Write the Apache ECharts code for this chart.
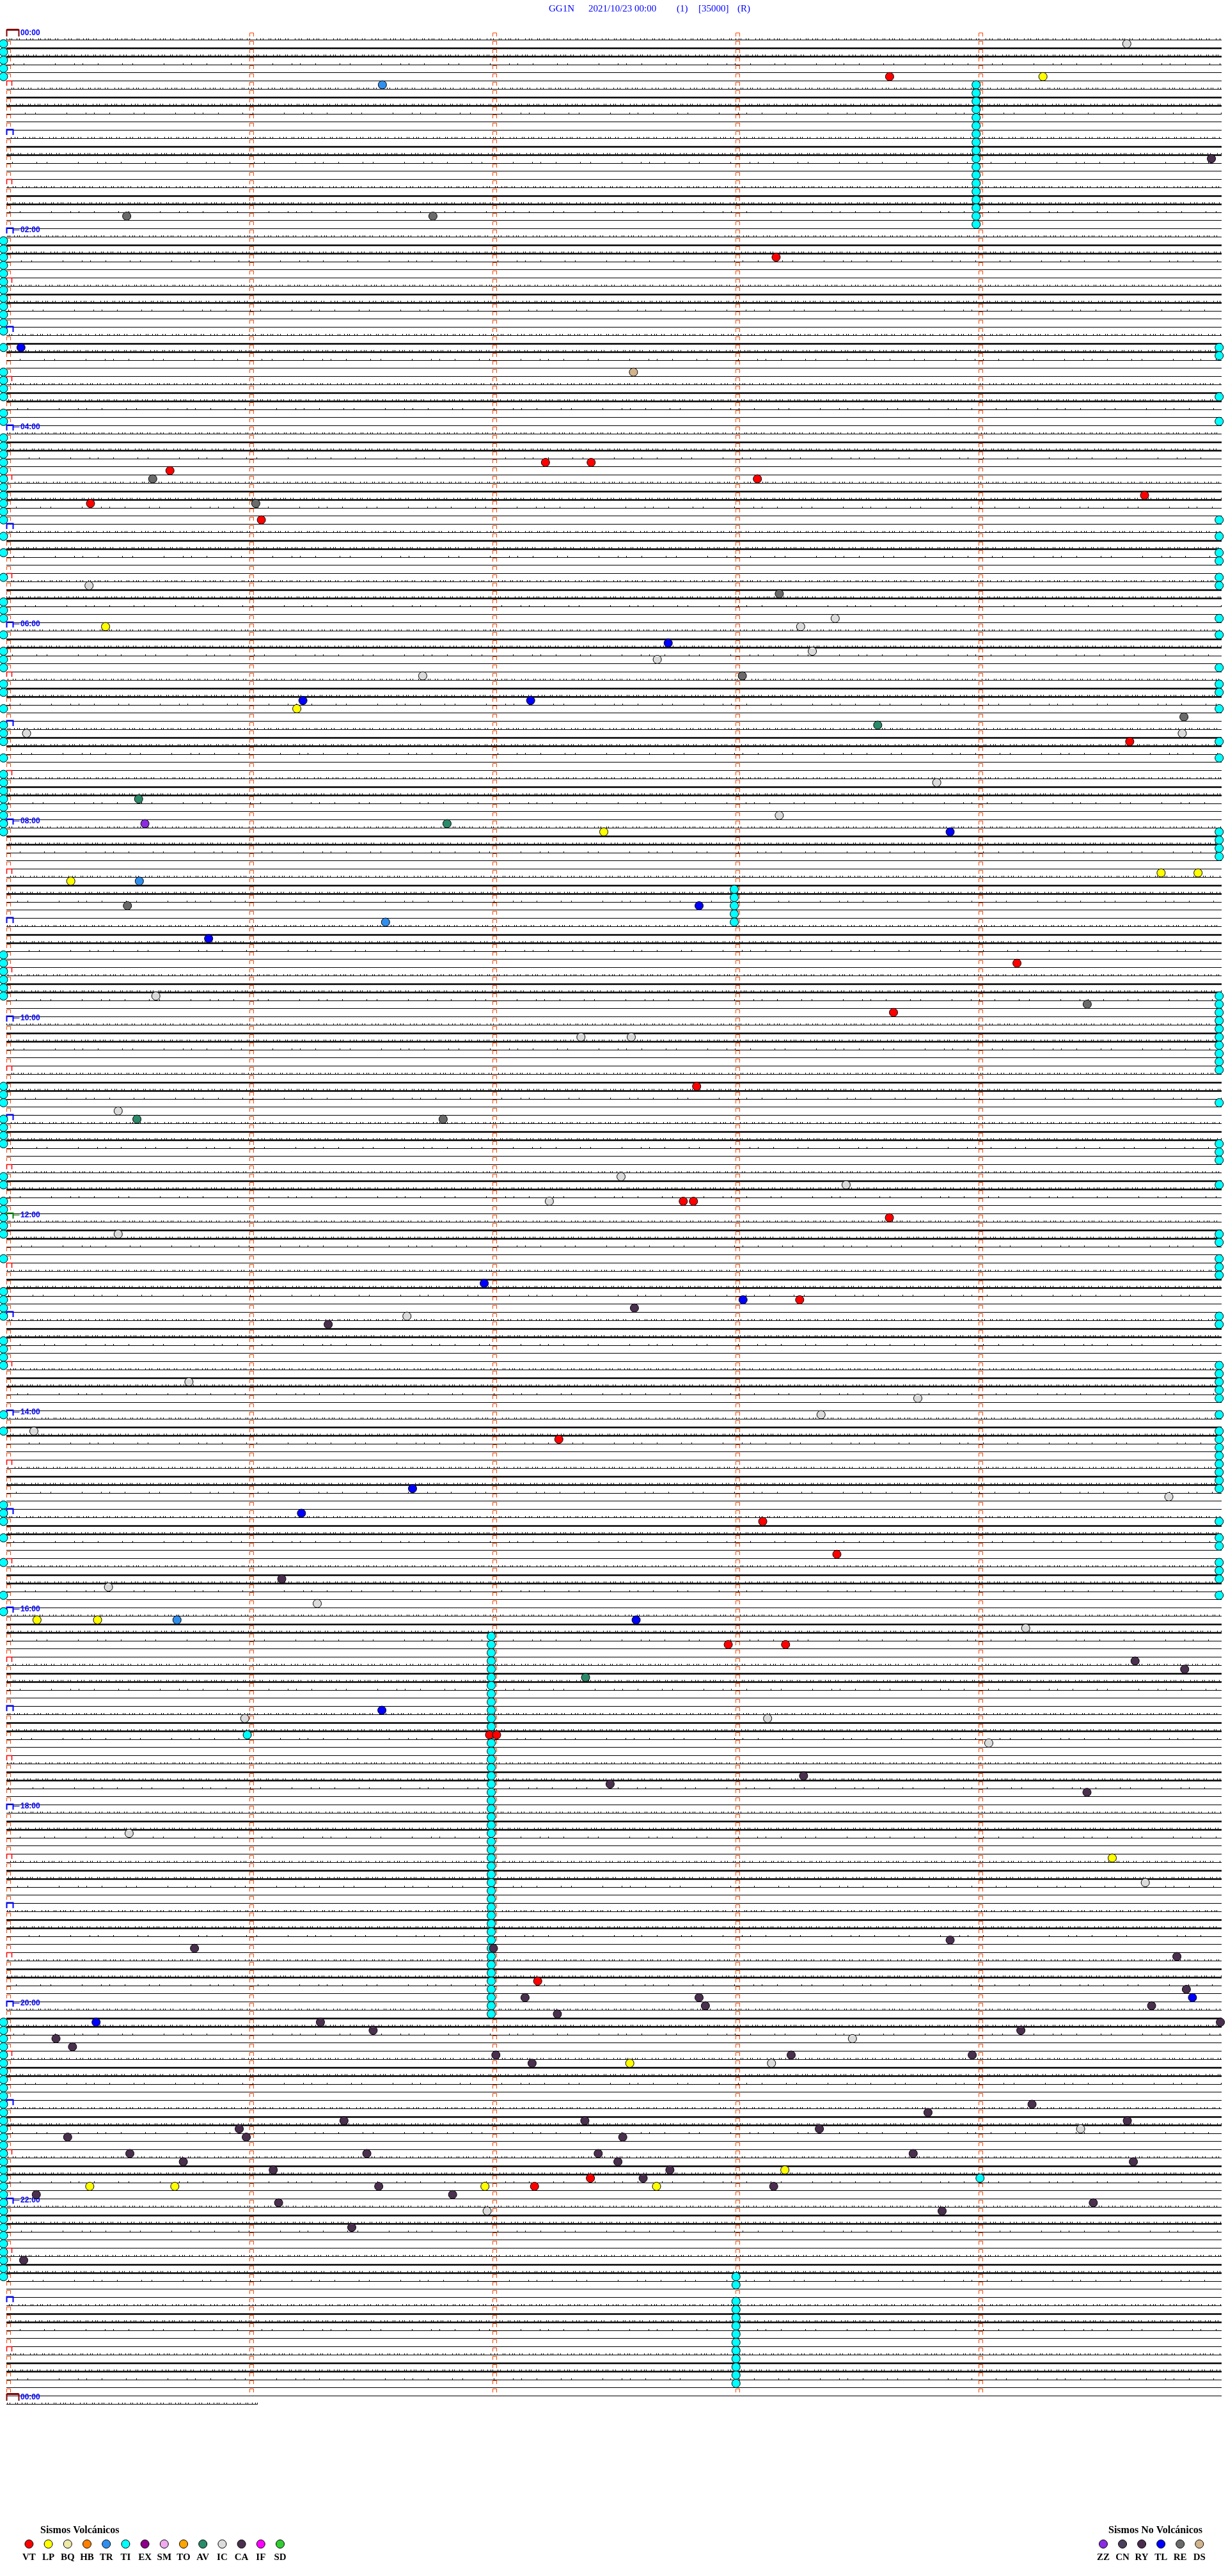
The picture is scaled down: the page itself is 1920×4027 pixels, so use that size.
<!DOCTYPE html>
<html><head><meta charset="utf-8">
<script src="https://cdn.jsdelivr.net/npm/echarts@6/dist/echarts.min.js"></script>
<style>html,body{margin:0;padding:0;background:#fff}#c{width:1920px;height:4027px}</style>
</head><body><div id="c"></div><script>
// ---------------- DATA ----------------
const titleParts = ['GG1N', '2021/10/23 00:00', '(1)', '[35000]', '(R)'];
const hourLabelRows = [0, 24, 48, 72, 96, 120, 144, 168, 192, 216, 240, 264, 288];
const hourLabelTexts = ['00:00','02:00','04:00','06:00','08:00','10:00','12:00','14:00','16:00','18:00','20:00','22:00','00:00'];
// trace noise level per 5-minute line (0 thin, 1 sparse ticks, 2 dense ticks, 3 thick, 4 thick+ticks), one string per hour
const traceLevels = [
 '234100234100','234100234100','234100234100','234100234100','234100234100','234100234100',
 '234100234100','234100234100','234100234100','234100234100','234100234100','234100234100',
 '234100234100','234100234100','234100234100','234100234100','234100234100','234100234100',
 '234100234100','234100234100','234100234100','234100234100','234100234100','234100234100'
];
const lastLine = [288, 2, 1.034]; // row, level, end minute
const bracketMinutes = [0, 1, 2, 3, 4];

const volcTypes = ['VT','LP','BQ','HB','TR','TI','EX','SM','TO','AV','IC','CA','IF','SD'];
const volcColors = ['#ff0000','#ffff00','#eee8aa','#ff8000','#2f8fef','#00ffff','#8b008b','#eeaaee','#ffa500','#2a8a6a','#dcdcdc','#4a2f4f','#ff00ff','#32cd32'];
const noVolcTypes = ['ZZ','CN','RY','TL','RE','DS'];
const noVolcColors = ['#8a2be2','#4a3f5c','#4b2c4e','#0000ff','#6a6a6a','#d2b48c'];

// events: [row, minute]
const evVT = [[4,3.634],[26,3.167],[51,2.218],[51,2.406],[52,0.673],[53,3.09],[55,4.683],[56,0.346],[58,1.049],[85,4.622],[112,4.158],[118,3.65],[127,2.84],[141,2.785],[141,2.827],[143,3.633],[153,3.264],[170,2.273],[180,3.112],[184,3.417],[195,2.97],[195,3.206],[206,1.988],[206,2.017],[236,2.186],[260,2.403],[261,2.173]];
const evLP = [[4,4.265],[71,0.408],[81,1.195],[96,2.458],[101,4.751],[101,4.903],[102,0.265],[192,0.126],[192,0.375],[221,4.55],[246,2.565],[259,3.203],[261,0.343],[261,0.693],[261,1.969],[261,2.675]];
const evTR = [[5,1.547],[102,0.547],[107,1.56],[192,0.702]];
const evAV = [[83,3.585],[92,0.544],[95,1.813],[131,0.537],[199,2.383]];
const evIC = [[0,4.61],[66,0.34],[70,3.41],[71,3.268],[74,3.316],[75,2.678],[77,1.713],[84,0.083],[84,4.838],[90,3.828],[94,3.18],[116,0.615],[121,2.364],[121,2.571],[130,0.46],[138,2.529],[139,3.455],[141,2.234],[145,0.46],[155,1.648],[163,0.751],[165,3.75],[167,3.352],[169,0.113],[177,4.783],[188,0.42],[190,1.279],[193,4.194],[204,0.981],[204,3.132],[207,4.042],[218,0.505],[224,4.686],[243,3.481],[246,3.148],[254,4.42],[264,1.978]];
const evCA = [[14,4.958],[154,2.584],[156,1.324],[187,1.133],[197,4.644],[198,4.848],[211,3.28],[212,2.484],[213,4.446],[231,3.883],[232,0.774],[232,2.004],[233,4.816],[237,4.855],[238,2.134],[238,2.85],[239,2.876],[239,4.712],[240,2.267],[241,1.292],[241,4.995],[242,1.509],[242,4.174],[243,0.204],[244,0.272],[245,2.014],[245,3.229],[245,3.974],[246,2.163],[251,4.22],[252,3.792],[253,1.389],[253,2.38],[253,4.612],[254,0.958],[254,3.345],[255,0.252],[255,0.987],[255,2.536],[257,0.508],[257,1.483],[257,2.435],[257,3.731],[258,0.728],[258,2.516],[258,4.637],[259,1.098],[259,2.73],[260,2.62],[261,1.532],[261,3.157],[262,0.123],[262,1.836],[263,1.12],[263,4.472],[264,3.85],[266,1.421],[270,0.071]];
const evZZ = [[95,0.57]];
const evTL = [[37,0.06],[73,2.723],[80,1.22],[80,2.157],[96,3.883],[105,2.85],[109,0.832],[151,1.966],[153,3.031],[176,1.671],[179,1.214],[192,2.591],[203,1.545],[238,4.88],[241,0.369]];
const evRE = [[21,0.495],[21,1.755],[53,0.602],[56,1.026],[67,3.18],[77,3.028],[82,4.845],[105,0.498],[117,4.447],[131,1.797]];
const evDS = [[40,2.58]];
const evTIsingle = [[206,0.991],[260,4.006]];
const tiLeftMinute = -0.012;
const tiRightMinute = 4.99;
const tiLeftRows = [0,1,2,3,4,24,25,26,27,28,29,30,31,32,33,34,35,37,40,41,42,43,45,46,48,49,50,51,52,53,54,55,56,57,58,60,62,65,68,69,70,72,74,75,76,78,79,81,83,84,85,87,89,90,91,92,93,94,95,96,111,112,113,114,115,116,127,128,129,131,132,133,134,138,139,141,142,143,144,145,148,152,153,154,155,158,159,160,161,167,169,178,179,180,182,185,189,191,241,242,243,244,245,246,247,248,249,250,251,252,253,254,255,256,257,258,259,260,261,262,263,264,265,266,267,268,269,270,271,272];
const tiRightRows = [37,38,43,46,58,60,62,63,65,66,70,72,76,78,79,81,85,87,96,97,98,99,116,117,118,119,120,121,122,123,124,125,129,134,135,136,139,145,146,148,149,150,155,156,161,162,163,164,165,167,169,170,171,172,173,174,175,176,180,182,183,185,186,187,189];
const tiColumn1 = {minute: 3.99, rows: [5,6,7,8,9,10,11,12,13,14,15,16,17,18,19,20,21,22]};
const tiColumn2 = {minute: 2.995, rows: [103,104,105,106,107]};
const tiColumn3 = {minute: 1.995, rows: [194,195,196,197,198,199,200,201,202,203,204,205,206,207,208,209,210,211,212,213,214,215,216,217,218,219,220,221,222,223,224,225,226,227,228,229,230,231,232,233,234,235,236,237,238,239,240]};
const tiColumn4 = {minute: 3.002, rows: [272,273,275,276,277,278,279,280,281,282,283,284,285]};

// ---------------- BUILD ----------------
const traceData = [];
traceLevels.join('').split('').forEach((c, k) => traceData.push([k, +c, 5]));
traceData.push(lastLine);

const bracketData = [];
for (let k = 0; k < 288; k++) bracketMinutes.forEach(m => bracketData.push([k, m]));
bracketData.push([288, 0]);

const labelData = hourLabelRows.map((r, i) => [r, i]);

function toPts(list) { return list.map(e => [e[1], e[0] + 0.5]); }
const tiData = [].concat(
  tiLeftRows.map(r => [tiLeftMinute, r + 0.5]),
  tiRightRows.map(r => [tiRightMinute, r + 0.5]),
  [tiColumn1, tiColumn2, tiColumn3, tiColumn4].reduce((a, c) => a.concat(c.rows.map(r => [c.minute, r + 0.5])), []),
  toPts(evTIsingle)
);
const colorOf = {};
volcTypes.forEach((t, i) => colorOf[t] = volcColors[i]);
noVolcTypes.forEach((t, i) => colorOf[t] = noVolcColors[i]);

const eventSets = [['TI', tiData], ['IC', toPts(evIC)], ['RE', toPts(evRE)], ['DS', toPts(evDS)], ['AV', toPts(evAV)], ['ZZ', toPts(evZZ)],
  ['TR', toPts(evTR)], ['TL', toPts(evTL)], ['CA', toPts(evCA)], ['LP', toPts(evLP)], ['VT', toPts(evVT)]];

const denseDash = [1,4,1,2,1,7,1,3,1,10,1,5,1,3,1,8,1,2,1,6];
const sparseDash = [1,23,1,37,1,15,1,48,1,29,1,12];

function renderTrace(params, api) {
  const k = api.value(0), lv = api.value(1), end = api.value(2);
  const p0 = api.coord([0, k]), p1 = api.coord([end, k]);
  const y = Math.round(p0[1]) + 0.5;
  const thick = lv >= 3;
  const ch = [{type: 'line', shape: {x1: p0[0], y1: y, x2: p1[0], y2: y}, style: {stroke: '#000', lineWidth: thick ? 2.5 : 1}}];
  if (lv === 2 || lv === 4 || lv === 1) {
    const ty = y - (thick ? 2.2 : 1.5);
    ch.push({type: 'line', shape: {x1: p0[0], y1: ty, x2: p1[0], y2: ty},
      style: {stroke: '#000', lineWidth: 2, lineDash: lv === 1 ? sparseDash : denseDash, lineDashOffset: (k * 17) % 60}});
  }
  return {type: 'group', children: ch};
}

function renderBracket(params, api) {
  const k = api.value(0), m = api.value(1);
  const p = api.coord([m, k]);
  const x = Math.round(p[0]) + 0.5, y = Math.round(p[1]);
  if (m === 0 && (k === 0 || k === 288)) {
    return {type: 'group', children: [
      {type: 'polyline', shape: {points: [[x, y - 5], [x, y - 15], [x + 19, y - 15], [x + 19, y - 5]]}, style: {stroke: '#800000', lineWidth: 2, fill: null}},
      {type: 'line', shape: {x1: x, y1: y - 15.5, x2: x + 19, y2: y - 15.5}, style: {stroke: '#800000', lineWidth: 3}}
    ]};
  }
  if (m === 0 && k % 12 === 0) {
    const col = k === 144 ? '#008000' : '#0000ff';
    const ch = [{type: 'polyline', shape: {points: [[x, y - 5], [x, y - 13.5], [x + 10, y - 13.5], [x + 10, y - 5]]}, style: {stroke: col, lineWidth: 2, fill: null}}];
    if (k % 24 === 0) ch.push({type: 'line', shape: {x1: x + 10, y1: y - 10.5, x2: x + 20, y2: y - 10.5}, style: {stroke: col, lineWidth: 1}});
    return {type: 'group', children: ch};
  }
  if (m === 0 && k % 12 === 6) {
    return {type: 'polyline', shape: {points: [[x, y - 5], [x, y - 12.5], [x + 8, y - 12.5], [x + 8, y - 5]]}, style: {stroke: '#ff0000', lineWidth: 1.5, fill: null}};
  }
  return {type: 'polyline', shape: {points: [[x, y - 5], [x, y - 10.5], [x + 6, y - 10.5], [x + 6, y - 5]]}, style: {stroke: '#ff4500', lineWidth: 1, fill: null}};
}

function renderLabel(params, api) {
  const k = api.value(0), i = api.value(1);
  const p = api.coord([0, k]);
  return {type: 'text', style: {text: hourLabelTexts[i], x: p[0] + 22, y: p[1] - 10, fill: '#0000ff',
    font: 'bold 12px "Liberation Sans", Arial, sans-serif', align: 'left', verticalAlign: 'middle'}};
}

const series = [
  {type: 'custom', name: 'traces', renderItem: renderTrace, data: traceData, z: 1, silent: true},
  {type: 'custom', name: 'brackets', renderItem: renderBracket, data: bracketData, z: 2, silent: true},
  {type: 'custom', name: 'hours', renderItem: renderLabel, data: labelData, z: 2, silent: true}
];
eventSets.forEach(([t, d]) => series.push({type: 'scatter', name: t, data: d, symbol: 'circle', symbolSize: 13, clip: false, z: 5,
  itemStyle: {color: colorOf[t], borderColor: '#000', borderWidth: 1, opacity: 1}}));

// legend + title graphics
const graphic = [];
const titleX = [858, 920, 1058, 1092, 1153];
titleParts.forEach((t, i) => graphic.push({type: 'text', left: titleX[i], top: 7,
  style: {text: t, fill: '#0000ff', font: '15px "Liberation Serif", "Times New Roman", serif'}}));
function legendBlock(types, x0, step, titleLeft, titleText) {
  graphic.push({type: 'text', left: titleLeft, top: 3948, style: {text: titleText, fill: '#000', font: 'bold 16px "Liberation Serif", serif'}});
  types.forEach((t, i) => {
    const cx = x0 + i * step;
    graphic.push({type: 'circle', shape: {cx: cx, cy: 3977, r: 6.5}, style: {fill: colorOf[t], stroke: '#000', lineWidth: 1}});
    graphic.push({type: 'text', x: cx, y: 3998, style: {text: t, fill: '#000', font: 'bold 15px "Liberation Serif", serif', align: 'center', verticalAlign: 'middle'}});
  });
}
legendBlock(volcTypes, 45.4, 30.2, 63, 'Sismos Volcánicos');
legendBlock(noVolcTypes, 1725, 30.05, 1733, 'Sismos No Volcánicos');

const chart = echarts.init(document.getElementById('c'), null, {renderer: 'canvas'});
chart.setOption({
  animation: false,
  backgroundColor: '#ffffff',
  grid: {left: 10, top: 62, width: 1900, height: 3696, containLabel: false},
  xAxis: {type: 'value', min: 0, max: 5, show: false},
  yAxis: {type: 'value', min: 0, max: 288, inverse: true, show: false},
  series: series,
  graphic: graphic
});
</script></body></html>
